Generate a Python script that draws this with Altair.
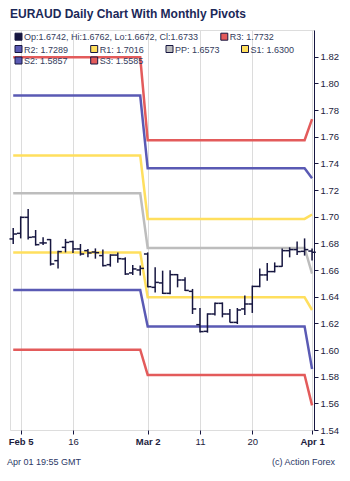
import altair as alt
import pandas as pd

# ---------------- data ----------------
dates = [
    "2026-02-04", "2026-02-05", "2026-02-06", "2026-02-09", "2026-02-10", "2026-02-11",
    "2026-02-12", "2026-02-13", "2026-02-16", "2026-02-17", "2026-02-18", "2026-02-19",
    "2026-02-20", "2026-02-23", "2026-02-24", "2026-02-25", "2026-02-26", "2026-02-27",
    "2026-03-02", "2026-03-03", "2026-03-04", "2026-03-05", "2026-03-06", "2026-03-09",
    "2026-03-10", "2026-03-11", "2026-03-12", "2026-03-13", "2026-03-16", "2026-03-17",
    "2026-03-18", "2026-03-19", "2026-03-20", "2026-03-23", "2026-03-24", "2026-03-25",
    "2026-03-26", "2026-03-27", "2026-03-30", "2026-03-31", "2026-04-01",
]
opens = [1.6833, 1.6875, 1.6995, 1.6848, 1.6803, 1.6828, 1.6670, 1.6770, 1.6813, 1.6758,
         1.6745, 1.6735, 1.6708, 1.6640, 1.6712, 1.6683, 1.6578, 1.6600, 1.6720, 1.6470,
         1.6503, 1.6425, 1.6565, 1.6525, 1.6440, 1.6190, 1.6140, 1.6270, 1.6350, 1.6270,
         1.6207, 1.6308, 1.6345, 1.6477, 1.6563, 1.6588, 1.6627, 1.6745, 1.6753, 1.6740,
         1.6742]
highs = [1.6915, 1.7002, 1.7058, 1.6900, 1.6845, 1.6832, 1.6745, 1.6833, 1.6820, 1.6795,
         1.6758, 1.6762, 1.6753, 1.6718, 1.6732, 1.6695, 1.6638, 1.6633, 1.6732, 1.6620,
         1.6595, 1.6598, 1.6570, 1.6545, 1.6458, 1.6315, 1.6275, 1.6357, 1.6357, 1.6308,
         1.6315, 1.6408, 1.6483, 1.6612, 1.6653, 1.6657, 1.6762, 1.6770, 1.6813, 1.6837,
         1.6762]
lows = [1.6795, 1.6837, 1.6828, 1.6783, 1.6788, 1.6633, 1.6612, 1.6732, 1.6728, 1.6708,
        1.6695, 1.6685, 1.6627, 1.6625, 1.6655, 1.6563, 1.6563, 1.6558, 1.6470, 1.6432,
        1.6420, 1.6418, 1.6470, 1.6443, 1.6270, 1.6132, 1.6130, 1.6258, 1.6245, 1.6207,
        1.6195, 1.6263, 1.6278, 1.6470, 1.6520, 1.6582, 1.6625, 1.6695, 1.6713, 1.6708,
        1.6672]
closes = [1.6870, 1.6995, 1.6845, 1.6790, 1.6803, 1.6645, 1.6738, 1.6807, 1.6758, 1.6720,
          1.6728, 1.6730, 1.6633, 1.6712, 1.6685, 1.6570, 1.6608, 1.6612, 1.6475, 1.6507,
          1.6425, 1.6565, 1.6525, 1.6447, 1.6308, 1.6138, 1.6270, 1.6350, 1.6270, 1.6207,
          1.6300, 1.6345, 1.6477, 1.6563, 1.6588, 1.6627, 1.6745, 1.6753, 1.6738, 1.6753,
          1.6733]

pivot_names = ["R3", "R2", "R1", "PP", "S1", "S2", "S3"]
pivots_feb = [1.8195, 1.7908, 1.7458, 1.7175, 1.6732, 1.6450, 1.6002]
pivots_mar = [1.7574, 1.7363, 1.6983, 1.6765, 1.6395, 1.6177, 1.5813]
pivots_apr = [1.7732, 1.7289, 1.7016, 1.6573, 1.6300, 1.5857, 1.5585]
pivot_colors = ["#e35b5b", "#5a5ab4", "#ffdf5e", "#bdbdbd", "#ffdf5e", "#5a5ab4", "#e35b5b"]

tick_idx = [1, 8, 18, 25, 32, 40]
tick_labels = ["Feb 5", "16", "Mar 2", "11", "20", "Apr 1"]
bold_idx = [1, 18, 40]
y_ticks = [1.54, 1.56, 1.58, 1.60, 1.62, 1.64, 1.66, 1.68, 1.70, 1.72, 1.74, 1.76, 1.78, 1.80, 1.82]

title_text = "EURAUD Daily Chart With Monthly Pivots"
stamp_text = "Apr 01 19:55 GMT"
credit_text = "(c) Action Forex"

# ---------------- tables ----------------
NAVY = "#161640"
FONT = "Liberation Sans"
LEG_TEXT = "#343c5c"

ohlc_label = "Op:%.4f, Hi:%.4f, Lo:%.4f, Cl:%.4f" % (opens[-1], highs[-1], lows[-1], closes[-1])
bars = pd.DataFrame({"i": list(range(len(dates))), "date": dates, "open": opens,
                     "high": highs, "low": lows, "close": closes})

month_pivots = {"02": pivots_feb, "03": pivots_mar, "04": pivots_apr}
piv_labels = ["%s: %.4f" % (n, v) for n, v in zip(pivot_names, pivots_apr)]
rows = []
for i, d in enumerate(dates):
    vals = month_pivots[d[5:7]]
    for n, lab, v in zip(pivot_names, piv_labels, vals):
        rows.append({"i": i, "name": n, "label": lab, "value": v})
piv = pd.DataFrame(rows)

# ---------------- scales / axes ----------------
label_expr = " : ".join("datum.value == %d ? '%s'" % (v, l) for v, l in zip(tick_idx, tick_labels)) + " : ''"
bold_test = " || ".join("datum.value == %d" % v for v in bold_idx)

x_axis = alt.Axis(values=tick_idx, labelExpr=label_expr, grid=True, gridColor="#dcdcdc",
                  gridWidth=1, domain=False, ticks=True, tickSize=4, tickColor=NAVY,
                  labelFont=FONT, labelFontSize=9.5, labelColor="#1c1c3c", labelPadding=2,
                  labelFontWeight={"condition": {"test": bold_test, "value": "bold"}, "value": "normal"},
                  title=None)
y_axis = alt.Axis(orient="right", values=y_ticks, format=".2f", grid=False, domainColor=NAVY,
                  tickColor=NAVY, tickSize=4, labelFont=FONT, labelFontSize=9.5,
                  labelColor="#1c1c3c", labelPadding=2, title=None)

x_scale = alt.Scale(domain=[-0.43, 40.26], nice=False, zero=False)
y_scale = alt.Scale(domain=[1.54, 1.84], nice=False, zero=False)


def X(field):
    return alt.X(field, scale=x_scale, axis=x_axis, title=None)


def Y(field):
    return alt.Y(field, scale=y_scale, axis=y_axis, title=None)


color_scale = alt.Scale(domain=piv_labels, range=pivot_colors)

# ---------------- layers ----------------
lines = alt.Chart(piv).mark_line(strokeWidth=2.5).encode(
    x=X("i:Q"), y=Y("value:Q"),
    color=alt.Color("label:N", scale=color_scale, legend=None))

base = alt.Chart(bars)
hl = base.mark_rule(strokeWidth=1.5, color=NAVY).encode(
    x=X("i:Q"), y=Y("low:Q"), y2="high:Q")
op = base.transform_calculate(xl="datum.i - 0.5").mark_rule(strokeWidth=1.5, color=NAVY).encode(
    x=X("xl:Q"), x2="i:Q", y=Y("open:Q"))
cl = base.transform_calculate(xr="datum.i + 0.5").mark_rule(strokeWidth=1.5, color=NAVY).encode(
    x=X("i:Q"), x2="xr:Q", y=Y("close:Q"))

# ---------------- legend (drawn as annotation) ----------------
note_df = pd.DataFrame({"a": [0]})
legend_items = [(ohlc_label, NAVY, 0, 0), (piv_labels[0], pivot_colors[0], 0, 1)]
for k in range(1, 7):
    legend_items.append((piv_labels[k], pivot_colors[k], 1 + (k - 1) // 4, (k - 1) % 4))
col_x = [8.5, 84.2, 159.5, 235.0]
row1_x = [8.5, 214.3]
row_y = [6.7, 19.0, 30.5]

legend_layers = []
for lab, colr, r, c in legend_items:
    sx = row1_x[c] if r == 0 else col_x[c]
    sy = row_y[r]
    legend_layers.append(
        alt.Chart(note_df).mark_square(size=49, filled=True, fill=colr, stroke=NAVY,
                                       strokeWidth=1, opacity=1).encode(
            x=alt.value(sx), y=alt.value(sy)))
    legend_layers.append(
        alt.Chart(note_df).mark_text(align="left", baseline="middle", font=FONT, fontSize=9,
                                     color=LEG_TEXT).encode(
            x=alt.value(sx + 5.5), y=alt.value(sy + 0.5), text=alt.value(lab)))

title = alt.Chart(note_df).mark_text(align="left", baseline="alphabetic", font=FONT,
                                     fontSize=12, fontWeight="bold", color="#1b2858").encode(
    x=alt.value(0), y=alt.value(-11.7), text=alt.value(title_text))
stamp = alt.Chart(note_df).mark_text(align="left", baseline="middle", font=FONT,
                                     fontSize=9, color="#2b3866").encode(
    x=alt.value(-3), y=alt.value(432), text=alt.value(stamp_text))
credit = alt.Chart(note_df).mark_text(align="right", baseline="middle", font=FONT,
                                      fontSize=9, color="#2b3866").encode(
    x=alt.value(325), y=alt.value(432), text=alt.value(credit_text))

chart = alt.layer(lines, hl, op, cl, *legend_layers, title, stamp, credit).properties(
    width=304, height=400,
    autosize=alt.AutoSizeParams(type="none"),
    padding={"left": 10, "top": 30, "right": 36, "bottom": 51},
).configure_view(stroke=NAVY, strokeWidth=1).configure(background="white")

chart.save("out.html", embed_options={"renderer": "svg", "actions": False})
